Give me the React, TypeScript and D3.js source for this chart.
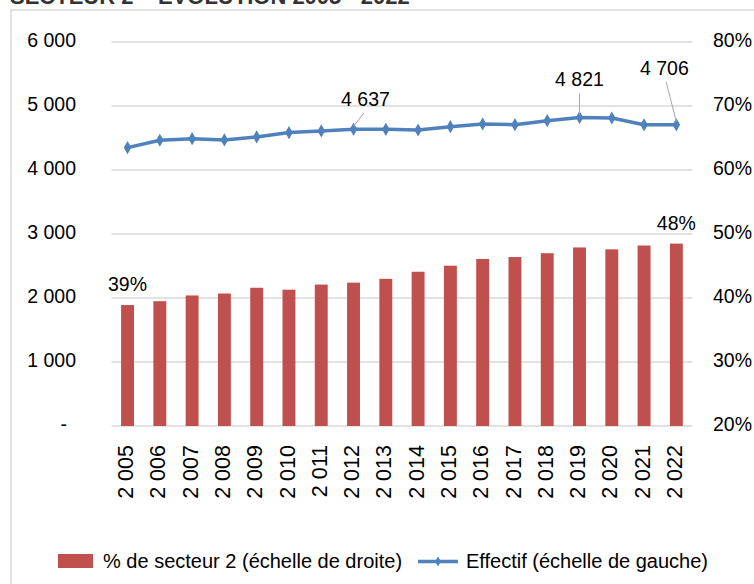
import React, { useEffect, useRef } from "react";
import * as d3 from "d3";

const years = ["2 005", "2 006", "2 007", "2 008", "2 009", "2 010", "2 011", "2 012", "2 013",
  "2 014", "2 015", "2 016", "2 017", "2 018", "2 019", "2 020", "2 021", "2 022"];
// % de secteur 2 (right scale)
const pctSecteur2 = [38.9, 39.5, 40.4, 40.7, 41.6, 41.3, 42.1, 42.4, 43.0, 44.1, 45.05, 46.1, 46.4, 47.0, 47.9, 47.6, 48.2, 48.5];
// Effectif (left scale)
const effectif = [4350, 4465, 4490, 4470, 4517, 4585, 4611, 4637, 4635, 4625, 4677, 4719, 4708, 4771, 4821, 4812, 4706, 4706];
const leftTicks = [0, 1000, 2000, 3000, 4000, 5000, 6000];
const rightTicks = [20, 30, 40, 50, 60, 70, 80];
// labelled points: [index, text, dx, dy of label relative to point]
const lineLabels: [number, string, number, number][] = [[7, "4 637", 12, -26], [14, "4 821", 0, -34], [17, "4 706", -12, -53]];
const barLabels: [number, string][] = [[0, "39%"], [17, "48%"]];

const W = 754, H = 584;
const FONT = "'Liberation Sans', Arial, sans-serif";
const BAR = "#C0504D";
const LINE = "#4F81BD";

export default function App() {
  const ref = useRef<SVGSVGElement>(null);

  useEffect(() => {
    const svg = d3.select(ref.current);
    svg.selectAll("*").remove();

    const left = 111.4, right = 692.5, top = 42, bottom = 426;

    const x = d3.scaleBand().domain(years).range([left, right]).paddingInner(0.6).paddingOuter(0.3);
    const yL = d3.scaleLinear().domain([0, 6000]).range([bottom, top]);
    const yR = d3.scaleLinear().domain([20, 80]).range([bottom, top]);
    const cx = (i: number) => (x(years[i]) as number) + x.bandwidth() / 2;

    // title, cut off at the top edge as in the source image
    svg.append("text").attr("x", 10).attr("y", 4)
      .attr("font-family", FONT).attr("font-weight", "bold").attr("font-size", 22)
      .attr("fill", "#333").text("SECTEUR 2 – EVOLUTION 2005 - 2022");

    // chart frame
    svg.append("rect").attr("x", 11).attr("y", 10).attr("width", W + 20).attr("height", H + 20)
      .attr("fill", "none").attr("stroke", "#d9d9d9").attr("stroke-width", 1.5);

    // gridlines
    svg.append("g").selectAll("line").data(leftTicks).join("line")
      .attr("x1", left).attr("x2", right)
      .attr("y1", d => yL(d)).attr("y2", d => yL(d))
      .attr("stroke", "#d9d9d9").attr("stroke-width", 1.5);

    // left tick labels
    svg.append("g").selectAll("text").data(leftTicks).join("text")
      .attr("x", d => d === 0 ? 67 : 76).attr("y", d => yL(d))
      .attr("text-anchor", "end").attr("dominant-baseline", "middle")
      .attr("font-family", FONT).attr("font-size", 19.5).attr("fill", "#000")
      .text(d => d === 0 ? "-" : d3.format(",")(d).replace(",", " "));

    // right tick labels
    svg.append("g").selectAll("text").data(rightTicks).join("text")
      .attr("x", 713).attr("y", d => yR(d))
      .attr("dominant-baseline", "middle")
      .attr("font-family", FONT).attr("font-size", 19.5).attr("fill", "#000")
      .text(d => d + "%");

    // bars
    svg.append("g").selectAll("rect").data(pctSecteur2).join("rect")
      .attr("x", (d, i) => x(years[i]) as number)
      .attr("y", d => yR(d))
      .attr("width", x.bandwidth())
      .attr("height", d => bottom - yR(d))
      .attr("fill", BAR);

    // line
    const line = d3.line<number>().x((d, i) => cx(i)).y(d => yL(d));
    svg.append("path").datum(effectif).attr("d", line)
      .attr("fill", "none").attr("stroke", LINE).attr("stroke-width", 3.5).attr("stroke-linejoin", "round");
    svg.append("g").selectAll("path").data(effectif).join("path")
      .attr("d", d3.symbol(d3.symbolDiamond, 50)())
      .attr("transform", (d, i) => `translate(${cx(i)},${yL(d)})`)
      .attr("fill", LINE);

    // line data labels with leader lines
    lineLabels.forEach(([i, t, dx, dy]) => {
      const px = cx(i), py = yL(effectif[i]);
      svg.append("line")
        .attr("x1", px + dx * 0.85).attr("y1", py + dy + 10)
        .attr("x2", px).attr("y2", py - 3)
        .attr("stroke", "#a6a6a6").attr("stroke-width", 1);
      svg.append("text").attr("x", px + dx).attr("y", py + dy + 3)
        .attr("text-anchor", "middle").attr("font-family", FONT).attr("font-size", 19.5)
        .attr("fill", "#000").text(t);
    });

    // bar data labels
    barLabels.forEach(([i, t]) => {
      svg.append("text").attr("x", cx(i)).attr("y", yR(pctSecteur2[i]) - 14)
        .attr("text-anchor", "middle").attr("font-family", FONT).attr("font-size", 19.5)
        .attr("fill", "#000").text(t);
    });

    // x labels
    svg.append("g").selectAll("text").data(years).join("text")
      .attr("transform", (d, i) => `translate(${cx(i)},445) rotate(-90)`)
      .attr("text-anchor", "end").attr("dominant-baseline", "middle")
      .attr("font-family", FONT).attr("font-size", 21.5).attr("fill", "#000")
      .text(d => d);

    // legend
    const lg = svg.append("g");
    lg.append("rect").attr("x", 58).attr("y", 554).attr("width", 35).attr("height", 14).attr("fill", BAR);
    lg.append("text").attr("x", 103).attr("y", 568)
      .attr("font-family", FONT).attr("font-size", 20).attr("fill", "#000")
      .text("% de secteur 2 (échelle de droite)");
    lg.append("line").attr("x1", 418).attr("x2", 458).attr("y1", 561.5).attr("y2", 561.5)
      .attr("stroke", LINE).attr("stroke-width", 3.5);
    lg.append("path").attr("d", d3.symbol(d3.symbolDiamond, 30)())
      .attr("transform", "translate(438,561.5)").attr("fill", LINE);
    lg.append("text").attr("x", 466).attr("y", 568)
      .attr("font-family", FONT).attr("font-size", 20).attr("fill", "#000")
      .text("Effectif (échelle de gauche)");
  }, []);

  return (
    <svg ref={ref} width={W} height={H}
      style={{ position: "absolute", left: 0, top: 0, background: "#fff" }} />
  );
}
